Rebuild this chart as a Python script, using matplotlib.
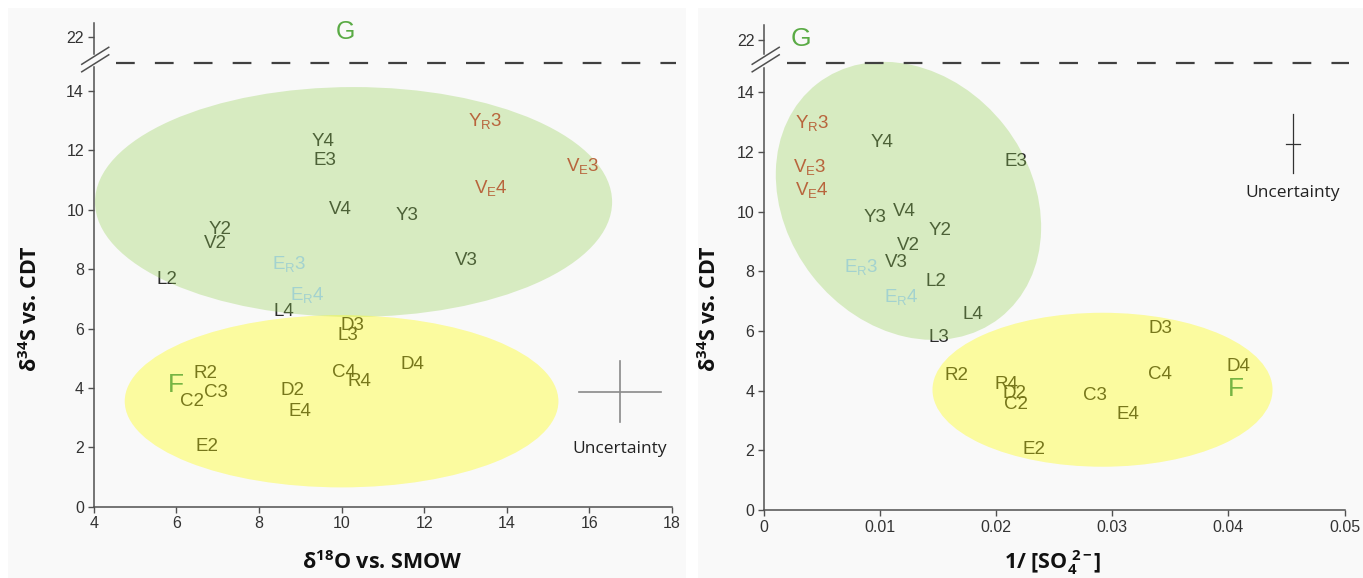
import matplotlib
matplotlib.use('Agg')
import matplotlib.pyplot as plt
from matplotlib.patches import Ellipse, Rectangle
from matplotlib.lines import Line2D
import matplotlib.transforms as mtransforms

# ---------------- data ----------------
sample_labels = ['Y4', 'E3', 'Y$_\\mathrm{R}$3', 'V$_\\mathrm{E}$3', 'V$_\\mathrm{E}$4',
                 'V4', 'Y3', 'Y2', 'V2', 'V3', 'E$_\\mathrm{R}$3', 'L2', 'E$_\\mathrm{R}$4',
                 'L4', 'D3', 'L3', 'D4', 'R2', 'C4', 'R4', 'C3', 'C2', 'D2', 'E4', 'E2']
sample_group = ['k', 'k', 'brown', 'brown', 'brown',
                'k', 'k', 'k', 'k', 'k', 'teal', 'k', 'teal',
                'k', 'k', 'k', 'k', 'k', 'k', 'k', 'k', 'k', 'k', 'k', 'k']
d34S = [12.30, 11.67, 12.98, 11.48, 10.74,
        10.00, 9.80, 9.35, 8.85, 8.30, 8.16, 7.66, 7.14,
        6.56, 6.09, 5.77, 4.80, 4.50, 4.53, 4.20, 3.85, 3.53, 3.92, 3.19, 2.02]
d18O = [9.54, 9.59, 13.48, 15.83, 13.61,
        9.96, 11.59, 7.05, 6.95, 13.02, 8.73, 5.76, 9.18,
        8.60, 10.26, 10.16, 11.72, 6.70, 10.05, 10.43, 6.95, 6.38, 8.80, 8.99, 6.75]
inv_SO4 = [0.01018, 0.02171, 0.00414, 0.00396, 0.00414,
           0.01210, 0.00958, 0.01517, 0.01239, 0.01136, 0.00832, 0.01476, 0.01184,
           0.01794, 0.03410, 0.01505, 0.04087, 0.01653, 0.03410, 0.02090, 0.02848,
           0.02171, 0.02160, 0.03133, 0.02326]

group_labels = ['G', 'F']
left_group_x = [10.1, 6.0]
left_group_y = [22.17, 4.09]
right_group_x = [0.00315, 0.04065]
right_group_y = [22.02, 4.05]

left_xticks = [4, 6, 8, 10, 12, 14, 16, 18]
right_xticks = [0, 0.01, 0.02, 0.03, 0.04, 0.05]
right_xticklabels = ['0', '0.01', '0.02', '0.03', '0.04', '0.05']
yticks_low = [0, 2, 4, 6, 8, 10, 12, 14]
yticks_high = [22]

# ---------------- style ----------------
plt.rcParams['font.family'] = ['Liberation Sans', 'DejaVu Sans']
plt.rcParams['mathtext.fontset'] = 'custom'
plt.rcParams['mathtext.rm'] = 'Liberation Sans'
plt.rcParams['mathtext.it'] = 'Liberation Sans:italic'
plt.rcParams['mathtext.bf'] = 'Open Sans:bold'

colors = {'k': '#2b2b2b', 'brown': '#b8643c', 'teal': '#a3d2cf'}
group_color = '#5aab45'
spine_c = '#505050'
label_font = ['Open Sans', 'DejaVu Sans']

W, H = 1363, 578
fig = plt.figure(figsize=(W / 100, H / 100), dpi=100, facecolor='white')
for (x0, x1) in [(8, 686), (698, 1363)]:
    fig.patches.append(Rectangle((x0 / W, 0), (x1 - x0) / W, (H - 8) / H,
                                 transform=fig.transFigure, facecolor='#f9f9f9',
                                 edgecolor='none', zorder=-10))


def px_axes(x0, x1, ytop, ybot):
    return fig.add_axes([x0 / W, 1 - ybot / H, (x1 - x0) / W, (ybot - ytop) / H])


def px_line(xs, ys, **kw):
    fig.add_artist(Line2D([x / W for x in xs], [1 - y / H for y in ys],
                          transform=fig.transFigure, **kw))


def style_axes(ax_lo, ax_hi, xlim, ylo, yhi, lo_top_bound, hi_bot_bound):
    for ax in (ax_lo, ax_hi):
        ax.set_facecolor('none')
        ax.set_xlim(*xlim)
        for s in ('top', 'right'):
            ax.spines[s].set_visible(False)
        for s in ('left', 'bottom'):
            ax.spines[s].set_color(spine_c)
            ax.spines[s].set_linewidth(1.1)
        ax.tick_params(direction='out', length=4, width=1, colors=spine_c,
                       labelsize=11.5, labelcolor='#333333', pad=3)
    ax_lo.set_ylim(*ylo)
    ax_hi.set_ylim(*yhi)
    ax_lo.set_yticks(yticks_low)
    ax_hi.set_yticks(yticks_high)
    ax_hi.spines['bottom'].set_visible(False)
    ax_hi.set_xticks([])
    ax_lo.spines['left'].set_bounds(0, lo_top_bound)
    ax_hi.spines['left'].set_bounds(hi_bot_bound, yhi[1])


def draw_labels(ax, xs):
    for lab, grp, x, y in zip(sample_labels, sample_group, xs, d34S):
        ax.text(x, y, lab, fontsize=13.5, color=colors[grp], ha='center', va='center',
                zorder=2 if grp == 'k' else 5)


def break_marks(sx, sy):
    for dy in (0, 7.5):
        px_line([sx - 12, sx + 15], [sy + 1 + dy, sy - 16 + dy], color=spine_c, lw=1.1)


def axis_text(xp, yp, s, rot=0):
    fig.text(xp / W, 1 - yp / H, s, rotation=rot, fontsize=15.5, fontweight='bold',
             family=label_font, ha='center', va='center', color='#111111')


dash_lw = 1.6
dash_style = (0, (13.5 / dash_lw, 14.5 / dash_lw))

# ---------------- left panel ----------------
L_lo = px_axes(93.75, 672, 63.3, 506.7)
L_hi = px_axes(93.75, 672, 23, 63.3)
style_axes(L_lo, L_hi, (4, 18), (0, 14.93), (21.11, 22.46), 14.8, 21.42)
L_lo.set_xticks(left_xticks)
draw_labels(L_lo, d18O)
L_lo.add_patch(Ellipse((10.29, 10.26), 12.52, 7.74, facecolor='#92d050', alpha=0.33,
                       edgecolor='none', zorder=3))
L_lo.add_patch(Ellipse((10.0, 3.55), 10.5, 5.8, facecolor='#ffff00', alpha=0.36,
                       edgecolor='none', zorder=3))
L_hi.text(left_group_x[0], left_group_y[0], group_labels[0], fontsize=18,
          color=group_color, ha='center', va='center')
L_lo.text(left_group_x[1], left_group_y[1], group_labels[1], fontsize=19,
          color='#76b443', ha='center', va='center', zorder=5)
# uncertainty cross
L_lo.plot([15.74, 17.74], [3.87, 3.87], color='#8a8a8a', lw=1.2, zorder=4)
L_lo.plot([16.74, 16.74], [2.85, 4.89], color='#8a8a8a', lw=1.2, zorder=4)
L_lo.text(16.74, 1.94, 'Uncertainty', fontsize=12.5, family=label_font,
          color='#222222', ha='center', va='center')
px_line([116, 676], [63.3, 63.3], color='#404040', lw=dash_lw, linestyle=dash_style)
break_marks(93.75, 63.3)
axis_text(31, 309, 'δ$^{\\mathbf{34}}$S vs. CDT', rot=90)
axis_text(382, 563, 'δ$^{\\mathbf{18}}$O vs. SMOW')

# ---------------- right panel ----------------
R_lo = px_axes(764.2, 1344.5, 63.3, 510)
R_hi = px_axes(764.2, 1344.5, 25, 63.3)
style_axes(R_lo, R_hi, (0, 0.05), (0, 14.97), (21.22, 22.5), 14.8, 21.52)
R_lo.set_xticks(right_xticks)
R_lo.set_xticklabels(right_xticklabels)
draw_labels(R_lo, inv_SO4)
rot_tr = fig.dpi_scale_trans + mtransforms.ScaledTranslation(0.01243, 10.36, R_lo.transData)
R_lo.add_patch(Ellipse((0, 0), 2.97, 2.44, angle=-52, transform=rot_tr,
                       facecolor='#92d050', alpha=0.33, edgecolor='none', zorder=3,
                       clip_on=False))
R_lo.add_patch(Ellipse((0.02915, 4.03), 0.0293, 5.16, facecolor='#ffff00', alpha=0.36,
                       edgecolor='none', zorder=3))
R_hi.text(right_group_x[0], right_group_y[0], group_labels[0], fontsize=19,
          color=group_color, ha='center', va='center')
R_lo.text(right_group_x[1], right_group_y[1], group_labels[1], fontsize=19,
          color='#76b443', ha='center', va='center', zorder=5)
R_lo.plot([0.04497, 0.04615], [12.27, 12.27], color='#333333', lw=0.9, zorder=4)
R_lo.plot([0.04556, 0.04556], [11.28, 13.26], color='#333333', lw=0.9, zorder=4)
R_lo.text(0.04556, 10.62, 'Uncertainty', fontsize=12.5, family=label_font,
          color='#222222', ha='center', va='center')
px_line([786.6, 1349], [63.3, 63.3], color='#404040', lw=dash_lw, linestyle=dash_style)
break_marks(764.2, 63.3)
axis_text(710, 309, 'δ$^{\\mathbf{34}}$S vs. CDT', rot=90)
axis_text(1053, 563, '1/ [SO$_{\\mathbf{4}}^{\\ \\mathbf{2-}}$]')

fig.savefig('out.png', dpi=100, facecolor=fig.get_facecolor())
